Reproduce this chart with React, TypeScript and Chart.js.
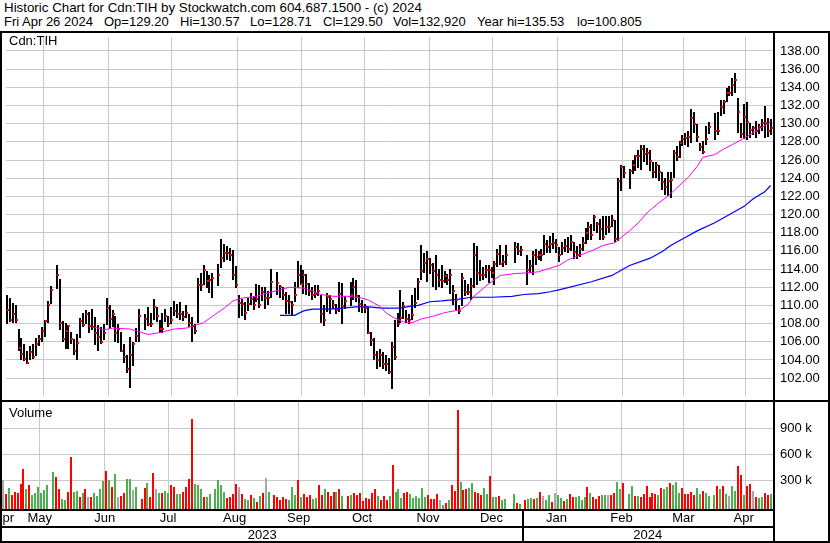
import React, { useEffect, useRef } from 'react';
import { Chart, registerables } from 'chart.js';

Chart.register(...registerables);

// ---- data: one entry per weekday slot, Apr 28 2023 (slot 0) .. Apr 26 2024 (slot 260); null = market holiday
const highs: (number | null)[] = [
  111.2,110.8,110.3,110.0,107.4,106.4,105.8,105.0,105.5,105.8,
  106.4,106.7,107.6,108.4,110.5,112.1,null,114.4,112.9,108.3,
  108.1,107.8,107.1,106.3,106.8,108.6,109.2,109.5,109.3,109.6,
  108.7,107.8,107.6,108.0,110.8,110.0,109.5,108.8,108.0,107.1,
  105.8,104.5,106.5,106.0,107.5,109.6,null,109.1,109.8,109.2,
  110.7,109.8,108.4,109.2,109.6,108.8,109.8,110.5,110.2,110.4,
  109.4,110.0,109.0,108.7,108.0,113.0,113.6,114.5,113.8,113.4,
  113.6,null,114.6,117.3,116.8,116.5,116.3,116.1,114.3,111.1,
  110.7,110.4,110.8,111.4,111.0,112.4,112.2,112.0,112.0,111.6,
  114.0,null,113.7,112.3,112.0,111.5,111.2,110.5,112.6,114.9,
  114.4,113.9,113.5,112.5,112.0,112.3,112.2,111.1,110.0,111.4,
  111.1,110.6,110.2,112.6,112.5,111.0,null,112.6,113.0,112.8,
  111.2,110.6,110.2,109.8,107.1,106.4,105.0,105.2,104.9,104.5,
  104.2,106.0,108.4,109.2,111.7,110.4,109.5,109.0,111.2,111.9,
  113.0,116.7,115.8,116.0,115.2,114.7,115.6,114.0,114.4,113.8,
  113.5,114.0,112.2,111.3,110.0,113.6,112.8,112.4,113.0,116.9,
  116.5,115.0,114.2,114.4,114.5,114.2,114.9,116.2,116.7,115.5,
  116.7,null,null,117.0,116.9,116.5,null,115.5,115.0,116.0,
  116.2,116.0,116.2,117.8,117.2,117.6,118.0,117.3,116.4,117.0,
  117.3,117.5,117.8,117.0,116.5,116.8,117.5,118.5,119.2,119.0,
  119.9,119.2,119.5,119.8,119.8,119.8,120.0,119.4,124.0,125.5,
  125.3,null,125.0,126.0,126.6,127.1,127.7,127.7,127.3,127.1,
  125.8,125.8,125.5,124.7,124.0,124.7,124.7,127.1,127.5,128.1,
  128.7,129.0,129.2,131.6,131.3,130.0,127.9,128.1,129.7,130.2,
  null,131.2,131.3,132.6,132.6,133.9,134.1,135.0,135.53,132.8,
  130.1,132.2,132.4,130.1,129.8,130.3,130.0,130.5,132.0,130.6,
  130.57,
];

const lows: (number | null)[] = [
  108.0,108.2,108.1,108.1,105.0,104.0,103.9,103.5,104.0,104.1,
  104.4,105.5,106.0,106.5,108.1,110.2,null,111.8,107.3,106.0,
  105.2,105.2,105.7,104.5,104.0,106.4,107.6,107.9,107.0,107.3,
  105.6,105.0,105.8,106.2,107.8,107.4,107.6,106.0,105.9,104.9,
  103.7,102.6,100.9,103.3,106.0,106.0,null,107.3,107.7,107.6,
  108.4,108.2,107.0,107.0,108.2,107.6,108.0,108.8,108.6,108.4,
  108.3,108.6,107.6,106.0,106.8,108.1,111.6,112.3,111.9,111.4,
  110.8,null,112.1,114.1,114.8,115.0,114.9,112.8,111.9,108.6,
  108.8,108.4,109.4,110.0,109.5,110.4,109.7,110.5,109.6,110.0,
  110.8,null,111.2,110.8,110.6,109.0,109.1,108.8,110.4,111.9,
  112.2,111.3,111.2,111.0,110.6,110.8,111.0,108.1,107.7,109.3,
  109.0,109.6,109.0,109.3,107.9,109.6,null,109.9,110.6,110.4,
  109.3,109.2,109.2,106.9,105.5,104.0,103.0,103.2,103.0,102.8,
  102.5,100.805,104.0,107.6,108.1,108.5,108.1,107.9,108.4,109.7,
  110.6,112.8,113.6,112.6,113.5,112.0,111.7,112.0,111.9,112.5,
  112.2,111.3,110.1,109.5,109.0,109.9,111.0,111.1,110.6,111.9,
  112.2,112.7,112.8,113.0,112.5,113.0,112.2,114.2,114.4,114.2,
  114.4,null,null,114.7,115.6,115.4,null,112.2,113.6,113.4,
  114.5,115.0,114.9,115.6,115.8,115.8,116.2,115.8,114.8,115.5,
  115.9,115.8,116.0,115.1,115.1,115.3,116.0,116.8,117.2,117.2,
  118.2,118.0,117.2,117.2,117.8,118.0,118.6,117.0,117.1,122.6,
  124.0,null,122.8,124.5,124.8,125.1,124.9,125.8,125.4,124.8,
  124.0,124.0,123.7,122.7,122.2,122.0,121.8,124.0,125.9,126.2,
  127.5,127.6,127.4,127.9,129.0,128.0,127.0,126.7,127.7,128.9,
  null,128.2,128.7,130.8,131.1,132.4,133.0,133.1,133.4,129.0,
  128.4,128.3,128.2,128.4,128.7,128.4,128.9,129.2,128.4,128.5,
  128.71,
];

const closes: (number | null)[] = [
  109.5,108.4,109.0,108.4,105.3,104.6,104.1,103.7,104.9,104.3,
  105.7,106.3,107.2,108.3,110.1,111.7,null,113.3,108.1,106.3,
  107.2,107.7,106.3,105.0,105.9,108.3,107.8,109.1,107.7,107.6,
  107.0,106.5,106.0,107.0,109.7,108.5,109.0,107.0,107.4,105.0,
  104.3,103.0,104.5,105.7,106.6,108.8,null,108.5,108.0,108.0,
  109.8,108.8,107.4,107.4,108.8,107.9,108.4,109.4,109.1,109.0,
  108.7,109.2,108.1,107.7,107.2,112.3,112.3,113.9,112.7,112.8,
  113.0,null,113.3,115.2,115.8,115.8,115.6,113.3,112.3,110.3,
  110.2,109.2,110.2,110.7,110.1,110.7,110.0,111.5,110.8,110.8,
  112.6,null,112.5,112.0,111.1,110.5,110.4,110.0,111.2,113.4,
  112.4,113.4,112.4,111.6,111.1,111.3,111.6,109.0,108.4,110.9,
  110.7,110.1,109.5,111.3,109.9,110.5,null,111.1,112.0,111.0,
  110.2,109.8,109.7,107.0,106.2,104.5,104.0,104.5,103.6,103.5,
  102.7,105.4,104.3,108.0,108.6,109.9,108.5,108.4,108.9,110.3,
  112.6,113.8,114.7,115.1,114.4,113.8,113.4,112.8,112.7,113.2,
  112.8,113.4,111.6,110.6,109.4,113.0,111.5,111.5,112.1,115.6,
  113.6,113.4,113.3,113.9,113.9,113.6,114.6,115.7,114.6,114.8,
  115.6,null,null,116.4,116.0,116.1,null,113.9,114.3,115.5,
  115.3,115.5,115.5,116.8,116.4,116.8,116.9,116.6,115.5,116.3,
  116.5,116.2,117.0,115.9,115.5,116.2,116.9,118.0,118.6,117.7,
  119.7,119.0,118.4,117.5,118.6,118.6,119.4,117.3,123.7,125.2,
  124.6,null,124.8,125.5,126.4,126.4,127.2,126.7,126.8,125.9,
  124.7,125.4,124.7,123.6,123.0,123.7,123.8,126.8,126.3,127.9,
  128.3,128.4,128.5,130.6,130.0,128.5,127.4,126.9,128.3,129.6,
  null,129.2,129.2,131.8,132.4,133.4,133.4,134.3,134.8,131.3,
  128.9,130.7,130.2,129.3,129.5,129.2,129.6,130.1,130.1,129.2,
  129.5,
];

// volume in thousands of shares
const volumesK: (number | null)[] = [
  298,136,212,124,163,148,252,425,200,240,
  124,148,225,148,186,240,null,395,340,200,
  78,70,163,560,163,170,109,148,194,100,
  100,148,117,200,290,403,302,217,367,100,
  117,148,310,310,186,225,null,78,205,270,
  100,380,194,148,148,170,148,240,217,136,
  136,163,217,310,1000,255,248,200,109,109,
  136,null,194,302,248,163,93,100,136,252,
  217,136,78,70,124,93,48,117,155,325,
  163,null,124,100,70,109,78,70,225,124,
  295,100,136,100,124,85,93,240,124,200,
  163,117,163,163,200,117,null,117,124,148,
  124,148,55,93,85,155,200,117,70,117,
  70,117,470,163,200,90,145,165,133,96,
  116,92,208,108,130,85,85,140,69,12,
  38,69,242,177,1107,277,185,192,204,269,
  161,146,127,208,138,346,100,108,115,69,
  85,null,null,138,38,23,null,69,85,92,
  85,92,161,115,69,130,50,150,130,92,
  62,77,134,104,108,115,69,108,215,154,
  104,77,115,130,130,130,130,154,273,192,
  269,null,138,231,115,115,108,140,235,108,
  154,140,130,208,192,215,269,238,281,154,
  208,140,134,161,130,204,138,177,150,120,
  null,130,231,200,231,138,115,231,177,462,
  361,130,231,254,177,108,92,108,146,123,
  132.92,
];

// day's change: u = up, d = down, n = unchanged, _ = holiday
const volumeDirection = (
  'ndudddddud' + 'uuuuuu_udd' + 'uudduududn' + 'duuuududun' + 'dduunu_ddu' +
  'ddnuduuddu' + 'udddduuudu' + 'u_uuuudddd' + 'nduudududn' + 'u_ddddduuu' +
  'duddduuddu' + 'dddudu_dud' + 'dddddddudd' + 'duduuudduu' + 'uuuuddddnu' +
  'dudddudduu' + 'ddduuduudu' + 'u__udu_duu' + 'dudnuudnuu' + 'dudduuuudu' +
  'ddduundduu' + 'd_uududddd' + 'dduduuduuu' + 'ddddduuduu' + '_ududunuud' +
  'duddnduudd' + 'u'
).split('');

// moving averages: [slot, value]
const magentaAverage: [number, number][] = [
  [30,107.6],[33,107.3],[36,107.5],[42,107.4],[45,107.1],[48,106.8],[52,107.0],[57,107.4],
  [61,107.5],[64,107.8],[67,108.1],[70,108.8],[74,109.7],[77,110.5],[80,110.8],[85,111.0],
  [88,111.3],[93,111.7],[96,112.0],[101,111.9],[104,111.6],[107,111.2],[111,111.0],[116,111.0],
  [121,110.8],[123,110.6],[127,109.9],[129,109.2],[132,108.6],[135,108.2],[138,108.1],[141,108.5],
  [145,108.8],[149,109.2],[154,109.5],[157,110.1],[159,111.0],[163,112.1],[165,112.6],[168,113.3],
  [173,113.5],[178,113.6],[181,113.7],[184,114.0],[188,114.4],[191,115.0],[194,115.4],[199,116.0],
  [203,116.6],[207,116.9],[210,117.7],[212,118.2],[215,119.1],[218,120.2],[222,121.3],[225,122.0],
  [228,122.9],[232,124.1],[235,125.3],[237,126.3],[241,126.6],[244,127.2],[247,127.7],[251,128.4],
  [254,129.0],[257,129.6],[260,130.2],
];
const blueAverage: [number, number][] = [
  [93,108.9],[98,108.9],[101,109.4],[104,109.6],[110,109.6],[114,109.7],[121,109.9],[128,109.7],
  [134,109.7],[137,109.9],[140,110.0],[144,110.4],[148,110.5],[154,110.7],[158,110.9],[165,110.9],
  [172,111.0],[176,111.2],[181,111.3],[185,111.5],[189,111.8],[199,112.6],[206,113.3],[212,114.4],
  [219,115.2],[223,115.9],[226,116.6],[230,117.3],[235,118.2],[241,119.1],[246,120.0],[251,120.9],
  [254,121.7],[258,122.5],[260,123.2],
];

const priceTicks = [102,104,106,108,110,112,114,116,118,120,122,124,126,128,130,132,134,136,138];
const volumeTicks = [300000, 600000, 900000];
const monthNames = ['Apr','May','Jun','Jul','Aug','Sep','Oct','Nov','Dec','Jan','Feb','Mar','Apr'];
const monthBounds = [-19, 1, 24, 45, 67, 90, 110.3, 133, 155, 176, 199, 220, 241, 263];
const yearNames = ['2023', '2024'];
const yearBounds = [-85, 176, 437];

const headerLine1 = 'Historic Chart for Cdn:TIH by Stockwatch.com 604.687.1500 - (c) 2024';
const headerFields = ['Fri Apr 26 2024', 'Op=129.20', 'Hi=130.57', 'Lo=128.71', 'Cl=129.50', 'Vol=132,920', 'Year hi=135.53', 'lo=100.805'];
const headerFieldLefts = [4, 104, 180, 250, 323, 393, 477, 577];

// ---- layout / style constants
const X_MIN = -0.27;
const X_MAX = 260.82;
const PRICE_MIN = 100.03;
const PRICE_MAX = 139.54;
const VOL_MIN = -34600;
const VOL_MAX = 1200000;
const CLOSE_OFFSET = 0.34;
const GRID = '#c8c8c8';
const FONT = "'Liberation Sans', Arial, Helvetica, sans-serif";
const GREEN = '#4cb050';
const RED = '#ff0000';
const GRAY = '#a8a8a8';

const clampCenter = (a: number, b: number) => (Math.max(a, X_MIN) + Math.min(b, X_MAX)) / 2;
const monthCenters = monthNames.map((_, k) => clampCenter(monthBounds[k], monthBounds[k + 1]));
const yearCenters = yearNames.map((_, k) => clampCenter(yearBounds[k], yearBounds[k + 1]));
const gridSlots = monthBounds.filter((v) => v > X_MIN && v < X_MAX);

// snap the library-computed mark positions to whole pixels so 2px marks stay crisp
const snapPlugin = {
  id: 'snapPixels',
  beforeDatasetsDraw(chart: any) {
    chart.data.datasets.forEach((_ds: any, di: number) => {
      const meta = chart.getDatasetMeta(di);
      if (meta.type === 'bar') {
        meta.data.forEach((el: any) => {
          el.x = Math.round(el.x);
          el.y = Math.round(el.y);
          el.base = Math.round(el.base);
        });
      } else if (meta.type === 'scatter') {
        meta.data.forEach((el: any) => {
          el.x = Math.round(el.x);
          el.y = Math.round(el.y);
        });
      }
    });
  },
};

export default function App() {
  const priceRef = useRef<HTMLCanvasElement>(null);
  const volRef = useRef<HTMLCanvasElement>(null);

  useEffect(() => {
    document.body.style.margin = '0';
    Chart.defaults.font.family = FONT;
    Chart.defaults.font.size = 13;
    Chart.defaults.color = '#000';

    const rangePts: any[] = [];
    const closePts: any[] = [];
    const volPts: any[] = [];
    const volColors: string[] = [];
    for (let i = 0; i < closes.length; i++) {
      if (closes[i] !== null) {
        rangePts.push({ x: i, y: [lows[i], highs[i]] });
        closePts.push({ x: i + CLOSE_OFFSET, y: closes[i] });
      }
      if (volumesK[i] !== null) {
        volPts.push({ x: i, y: (volumesK[i] as number) * 1000 });
        const d = volumeDirection[i];
        volColors.push(d === 'u' ? GREEN : d === 'd' ? RED : GRAY);
      }
    }

    const xGrid = {
      type: 'linear' as const,
      min: X_MIN,
      max: X_MAX,
      offset: false,
      grid: { color: GRID, drawTicks: false, lineWidth: 1 },
      border: { display: false },
      ticks: { display: false },
      afterBuildTicks: (s: any) => { s.ticks = gridSlots.map((v) => ({ value: v })); },
      afterFit: (s: any) => { s.height = 0; s.paddingLeft = 0; s.paddingRight = 0; },
    };

    const priceChart = new Chart(priceRef.current as HTMLCanvasElement, {
      type: 'scatter',
      plugins: [snapPlugin],
      data: {
        datasets: [
          {
            type: 'scatter',
            data: closePts,
            pointStyle: 'rect',
            pointRadius: 1.42,
            pointBackgroundColor: RED,
            pointBorderWidth: 0,
            order: 0,
          } as any,
          {
            type: 'line',
            data: magentaAverage.map(([x, y]) => ({ x, y })),
            borderColor: '#ff00ff',
            borderWidth: 1,
            pointRadius: 0,
            order: 1,
          } as any,
          {
            type: 'line',
            data: blueAverage.map(([x, y]) => ({ x, y })),
            borderColor: '#0000ff',
            borderWidth: 1.2,
            pointRadius: 0,
            order: 2,
          } as any,
          {
            type: 'bar',
            data: rangePts,
            backgroundColor: '#000',
            barThickness: 2,
            borderWidth: 0,
            inflateAmount: 0,
            order: 3,
          } as any,
        ],
      },
      options: {
        animation: false,
        responsive: false,
        events: [],
        layout: { padding: 0 },
        plugins: { legend: { display: false }, tooltip: { enabled: false } },
        scales: {
          x: xGrid as any,
          y: {
            type: 'linear',
            position: 'right',
            min: PRICE_MIN,
            max: PRICE_MAX,
            grid: { color: GRID, drawTicks: false },
            border: { display: false },
            ticks: { padding: 7, color: '#000', font: { size: 13, family: FONT }, callback: (v: any) => Number(v).toFixed(2) },
            afterBuildTicks: (s: any) => { s.ticks = priceTicks.map((v) => ({ value: v })); },
            afterFit: (s: any) => { s.width = 57; s.paddingTop = 0; s.paddingBottom = 0; },
          } as any,
        },
      },
    });

    const volChart = new Chart(volRef.current as HTMLCanvasElement, {
      type: 'bar',
      plugins: [snapPlugin],
      data: {
        datasets: [
          {
            data: volPts,
            backgroundColor: volColors,
            barThickness: 2,
            borderWidth: 0,
            inflateAmount: 0,
            base: VOL_MIN,
            xAxisID: 'x',
            yAxisID: 'y',
          } as any,
        ],
      },
      options: {
        animation: false,
        responsive: false,
        events: [],
        layout: { padding: 0 },
        plugins: { legend: { display: false }, tooltip: { enabled: false } },
        scales: {
          x: { ...xGrid, weight: 0 } as any,
          xm: {
            type: 'linear',
            position: 'bottom',
            weight: 1,
            min: X_MIN,
            max: X_MAX,
            offset: false,
            grid: { display: false, drawTicks: false },
            border: { display: false },
            ticks: {
              autoSkip: false, maxRotation: 0, minRotation: 0, padding: 2, color: '#000',
              font: { size: 13, family: FONT },
              callback: (_v: any, i: number) => monthNames[i],
            },
            afterBuildTicks: (s: any) => { s.ticks = monthCenters.map((v) => ({ value: v })); },
            afterFit: (s: any) => { s.height = 18; s.paddingLeft = 0; s.paddingRight = 0; },
          } as any,
          xy: {
            type: 'linear',
            position: 'bottom',
            weight: 2,
            min: X_MIN,
            max: X_MAX,
            offset: false,
            grid: { display: false, drawTicks: false },
            border: { display: false },
            ticks: {
              autoSkip: false, maxRotation: 0, minRotation: 0, padding: 1, color: '#000',
              font: { size: 13, family: FONT },
              callback: (_v: any, i: number) => yearNames[i],
            },
            afterBuildTicks: (s: any) => { s.ticks = yearCenters.map((v) => ({ value: v })); },
            afterFit: (s: any) => { s.height = 16; s.paddingLeft = 0; s.paddingRight = 0; },
          } as any,
          y: {
            type: 'linear',
            position: 'right',
            min: VOL_MIN,
            max: VOL_MAX,
            grid: { color: GRID, drawTicks: false },
            border: { display: false },
            ticks: { padding: 7, color: '#000', font: { size: 13, family: FONT }, callback: (v: any) => `${Math.round(Number(v) / 1000)} k` },
            afterBuildTicks: (s: any) => { s.ticks = volumeTicks.map((v) => ({ value: v })); },
            afterFit: (s: any) => { s.width = 57; s.paddingTop = 0; s.paddingBottom = 0; },
          } as any,
        },
      },
    });

    return () => {
      priceChart.destroy();
      volChart.destroy();
    };
  }, []);

  const line = (left: number, top: number, width: number, height: number, key: string) => (
    <div key={key} style={{ position: 'absolute', left, top, width, height, background: '#000' }} />
  );

  const textStyle: React.CSSProperties = {
    position: 'absolute',
    fontFamily: FONT,
    fontSize: 13,
    lineHeight: '14px',
    color: '#000',
    whiteSpace: 'pre',
  };

  return (
    <div style={{ position: 'fixed', left: 0, top: 0, width: 830, height: 543, background: '#fff', overflow: 'hidden' }}>
      <div style={{ ...textStyle, left: 4, top: 1, fontSize: 13.33 }}>{headerLine1}</div>
      {headerFields.map((t, k) => (
        <span key={t} style={{ ...textStyle, left: headerFieldLefts[k], top: 15 }}>{t}</span>
      ))}
      <canvas ref={priceRef} width={828} height={367} style={{ position: 'absolute', left: 2, top: 33, width: 828, height: 367 }} />
      <canvas ref={volRef} width={828} height={141} style={{ position: 'absolute', left: 2, top: 402, width: 828, height: 141 }} />
      <div style={{ ...textStyle, left: 9, top: 34 }}>Cdn:TIH</div>
      <div style={{ ...textStyle, left: 9, top: 406 }}>Volume</div>
      {line(0, 31, 830, 2, 'top')}
      {line(0, 31, 2, 512, 'left')}
      {line(828, 31, 2, 512, 'right')}
      {line(0, 541, 830, 2, 'bottom')}
      {line(773, 31, 2, 512, 'axis')}
      {line(0, 400, 830, 2, 'sep')}
      {line(0, 509, 775, 2, 'volbottom')}
      {line(0, 526, 775, 2, 'monthyear')}
      {line(522, 509, 2, 34, 'yeardiv')}
    </div>
  );
}
